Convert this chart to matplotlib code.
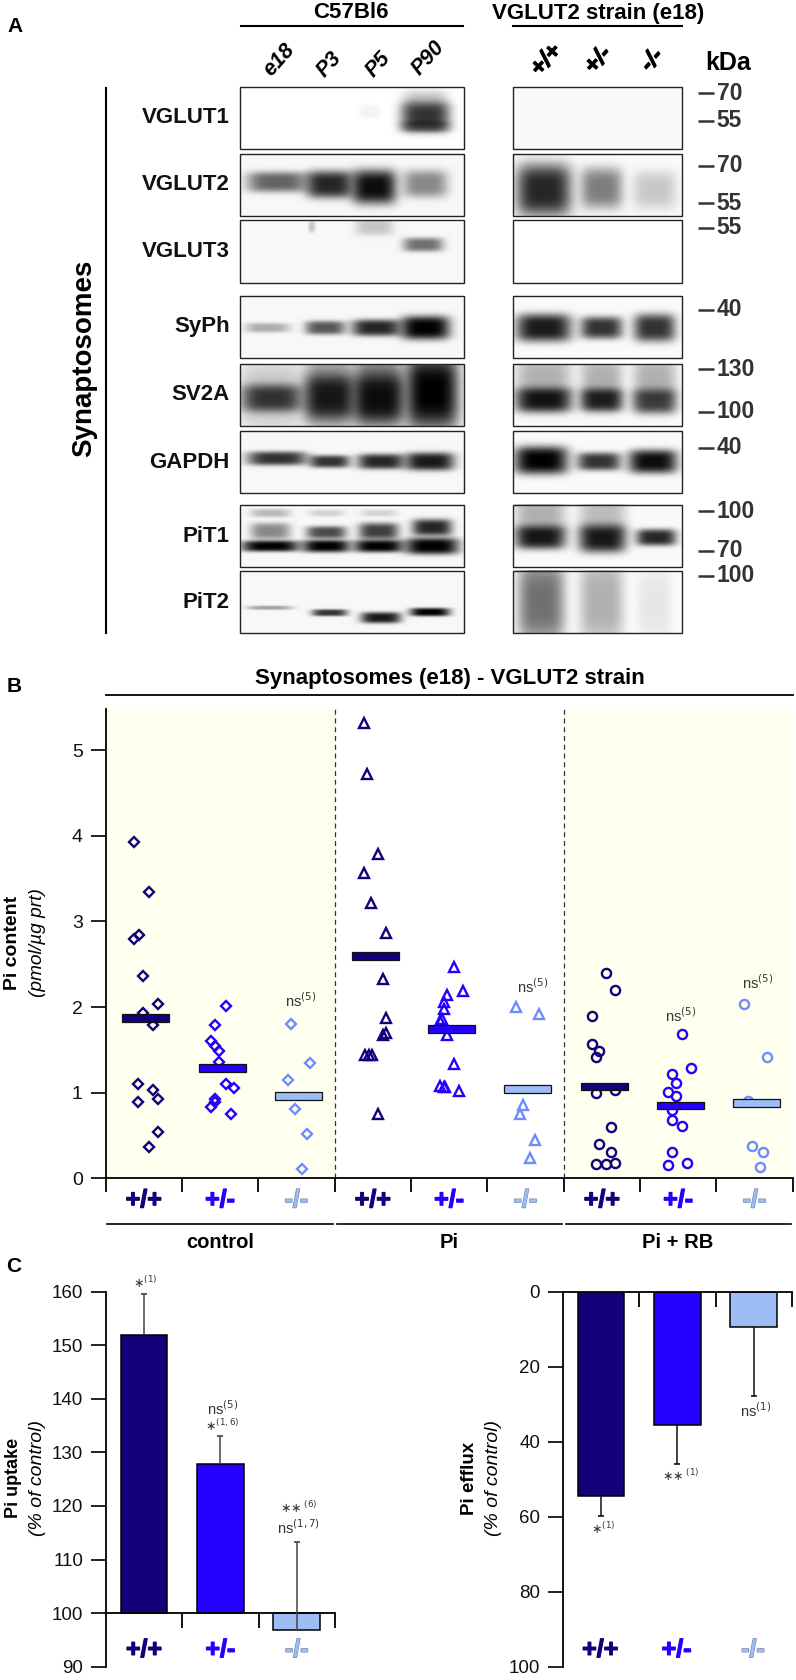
#imports
import numpy as np
import matplotlib
matplotlib.use("Agg")
import matplotlib.pyplot as plt
import matplotlib.patheffects as pe
from matplotlib.patches import Rectangle

plt.rcParams['font.family'] = ['Liberation Sans', 'DejaVu Sans']
plt.rcParams['mathtext.fontset'] = 'dejavusans'

W, H = 796, 1680
DARK, MID, LIGHT = '#15007A', '#2400FF', '#9DBDF5'
LIGHT_MARK = '#6F8CFF'
GENO = ['+/+', '+/-', '-/-']

#1. Blot data: each band is (x, y, half width, half height, darkness) as part of the box
vglut1_left = [(.83, .48, .11, .22, .8), (.83, .2, .1, .14, .2), (.83, .64, .105, .08, .4), (.58, .4, .05, .1, .05)]
vglut1_right = []
vglut2_left = [(.164, .45, .135, .15, .6), (.40, .49, .105, .2, .85), (.60, .53, .1, .25, .95), (.83, .48, .1, .2, .45)]
vglut2_right = [(.18, .58, .165, .38, .85), (.525, .55, .125, .3, .5), (.84, .58, .13, .28, .2)]
vglut3_left = [(.82, .39, .09, .1, .55), (.60, .1, .085, .13, .2), (.32, .1, .015, .08, .2)]
vglut3_right = []
syph_left = [(.12, .52, .1, .07, .3), (.38, .52, .09, .1, .65), (.61, .52, .11, .12, .85), (.83, .52, .11, .17, 1)]
syph_right = [(.18, .52, .165, .2, .9), (.525, .52, .125, .16, .8), (.84, .52, .125, .2, .8)]
sv2a_left = [(.14, .55, .135, .2, .75), (.14, .5, .15, .5, .2), (.40, .53, .11, .32, .85), (.40, .45, .11, .6, .4),
             (.62, .55, .11, .35, .9), (.62, .4, .11, .6, .5), (.86, .45, .12, .55, 1)]
sv2a_right = [(.18, .58, .165, .18, .9), (.18, .3, .165, .4, .3), (.525, .58, .125, .17, .85), (.525, .3, .125, .4, .3),
              (.84, .6, .13, .18, .7), (.84, .3, .13, .4, .3)]
gapdh_left = [(.164, .45, .135, .1, .8), (.40, .5, .09, .09, .8), (.63, .5, .105, .11, .85), (.85, .5, .11, .13, .9)]
gapdh_right = [(.165, .48, .16, .2, 1), (.51, .5, .13, .13, .8), (.83, .5, .145, .17, .95)]
pit1_left = [(.134, .67, .13, .08, 1), (.385, .67, .105, .09, 1), (.62, .67, .11, .09, 1), (.86, .67, .12, .12, 1),
             (.134, .43, .09, .12, .45), (.134, .14, .09, .06, .25), (.385, .45, .09, .09, .7), (.385, .14, .08, .05, .15),
             (.62, .43, .09, .12, .75), (.62, .14, .08, .05, .15), (.86, .37, .09, .12, .85)]
pit1_right = [(.16, .53, .15, .17, .9), (.16, .2, .15, .3, .3), (.53, .55, .14, .2, .9), (.53, .2, .14, .3, .25), (.85, .53, .12, .12, .85)]
pit2_left = [(.13, .6, .1, .03, .35), (.4, .68, .08, .05, .8), (.63, .76, .09, .08, .9), (.85, .67, .09, .06, 1)]
pit2_right = [(.165, .5, .14, .6, .55), (.525, .5, .13, .6, .3), (.84, .55, .1, .5, .08)]

blot_names = ['VGLUT1', 'VGLUT2', 'VGLUT3', 'SyPh', 'SV2A', 'GAPDH', 'PiT1', 'PiT2']
blots_left = [vglut1_left, vglut2_left, vglut3_left, syph_left, sv2a_left, gapdh_left, pit1_left, pit2_left]
blots_right = [vglut1_right, vglut2_right, vglut3_right, syph_right, sv2a_right, gapdh_right, pit1_right, pit2_right]
blot_tops = [86.7, 153.7, 220.3, 295.7, 364, 430.7, 505, 571]
blot_bottoms = [148.7, 215.7, 283, 358, 426, 493.3, 567.3, 633.3]
kda_values = ['70', '55', '70', '55', '55', '40', '130', '100', '40', '100', '70', '100']
kda_rows = [93, 120.7, 165.7, 203.3, 228, 310, 369, 411.7, 447.7, 511.3, 550.7, 576]
lanes_left = ['e18', 'P3', 'P5', 'P90']
lanes_right = ['+/+', '+/-', '-/-']

#2. Panel B data
control_wt_x = [.376, .576, .371, .441, .485, .686, .485, .624, .432, .624, .686, .432, .686, .576]
control_wt_y = [3.93, 3.35, 2.79, 2.84, 2.36, 2.03, 1.93, 1.79, 1.10, 1.03, .93, .89, .54, .36]
control_het_x = [1.576, 1.432, 1.380, 1.437, 1.489, 1.480, 1.576, 1.686, 1.437, 1.437, 1.384, 1.638]
control_het_y = [2.01, 1.79, 1.60, 1.54, 1.49, 1.36, 1.10, 1.05, .92, .89, .83, .75]
control_ko_x = [2.432, 2.681, 2.384, 2.476, 2.633, 2.572]
control_ko_y = [1.80, 1.34, 1.15, .81, .51, .11]
pi_wt_x = [3.380, 3.428, 3.568, 3.380, 3.476, 3.677, 3.633, 3.677, 3.677, 3.633, 3.402, 3.445, 3.489, 3.568]
pi_wt_y = [5.32, 4.72, 3.79, 3.57, 3.22, 2.87, 2.33, 1.87, 1.70, 1.67, 1.44, 1.44, 1.44, .75]
pi_het_x = [4.568, 4.677, 4.476, 4.428, 4.428, 4.410, 4.376, 4.476, 4.568, 4.376, 4.428, 4.450, 4.629]
pi_het_y = [2.47, 2.19, 2.14, 2.06, 1.98, 1.86, 1.84, 1.67, 1.33, 1.08, 1.07, 1.06, 1.02]
pi_ko_x = [5.376, 5.672, 5.472, 5.424, 5.624, 5.563]
pi_ko_y = [2.0, 1.92, .85, .75, .44, .23]
rb_wt_x = [6.559, 6.668, 6.371, 6.371, 6.467, 6.419, 6.419, 6.668, 6.624, 6.467, 6.624, 6.419, 6.559, 6.668]
rb_wt_y = [2.40, 2.20, 1.90, 1.57, 1.49, 1.41, .99, 1.03, .60, .40, .30, .17, .17, .18]
rb_het_x = [7.555, 7.664, 7.415, 7.467, 7.367, 7.467, 7.415, 7.415, 7.555, 7.415, 7.620, 7.367]
rb_het_y = [1.68, 1.29, 1.22, 1.11, 1.01, .96, .80, .68, .61, .30, .18, .15]
rb_ko_x = [8.367, 8.664, 8.415, 8.463, 8.616, 8.568]
rb_ko_y = [2.04, 1.41, .90, .37, .30, .13]
group_means = [1.87, 1.29, .96, 2.60, 1.74, 1.04, 1.07, .85, .88]
group_names = ['control', 'Pi', 'Pi + RB']
b_notes_x = [2.56, 5.6, 7.53, 8.54]
b_notes_y = [2.08, 2.24, 1.90, 2.28]

#3. Panel C data
uptake_means = [151.9, 127.8, 96.8]
uptake_tops = [159.5, 133, 113.3]
efflux_means = [54.5, 35.6, 9.5]
efflux_tops = [59.8, 46, 27.7]

fig = plt.figure(figsize=(W / 100, H / 100), dpi=100)


def px_axes(left, top, right, bottom):
    return fig.add_axes([left / W, 1 - bottom / H, (right - left) / W, (bottom - top) / H])


#4. Page axes in pixels, for panel A and the loose labels
page = fig.add_axes([0, 0, 1, 1])
page.axis('off')


def draw_blot(bands, x0, x1, y0, y1, paper=.97):
    yy, xx = np.mgrid[0:1:90j, 0:1:160j]
    light = np.ones_like(xx)
    for x, y, w, h, d in bands:
        light *= 1 - d * np.exp(-(np.abs((xx - x) / w) ** 4 + np.abs((yy - y) / (1.12 * h)) ** 3.5))
    page.imshow(paper * light, cmap='gray', vmin=0, vmax=1, extent=(x0, x1, y1, y0),
                aspect='auto', interpolation='bilinear', zorder=1)
    page.add_patch(Rectangle((x0, y0), x1 - x0, y1 - y0, fill=False, ec='#222222', lw=1, zorder=2))


for i, name in enumerate(blot_names):
    t, b = blot_tops[i], blot_bottoms[i]
    draw_blot(blots_left[i], 240.1, 463.5, t, b, paper=1 if i == 0 else .97)
    draw_blot(blots_right[i], 512.7, 681.7, t, b, paper=.98 if i != 2 else 1)
    page.text(229.5, (t + b) / 2, name, ha='right', va='center', fontsize=16, fontweight='bold', color='#111111')
page.set_xlim(0, W)
page.set_ylim(H, 0)

page.text(351, 13, 'C57Bl6', ha='center', va='center', fontsize=16, fontweight='bold')
page.text(598, 13, 'VGLUT2 strain (e18)', ha='center', va='center', fontsize=16, fontweight='bold')
page.plot([240.6, 463], [26, 26], color='k', lw=1.5)
page.plot([513, 682], [26, 26], color='k', lw=1.5)
for label, x, y in zip(lanes_left, [279, 329, 378, 428], [60, 65, 65, 58]):
    page.text(x, y, label, rotation=48, ha='center', va='center', fontsize=15.5, fontweight='bold', style='italic')
for label, x in zip(lanes_right, [546, 598, 652]):
    page.text(x, 60, label, rotation=48, ha='center', va='center', fontsize=17, fontweight='bold', style='italic',
              path_effects=[pe.withStroke(linewidth=.8, foreground='k')])
page.text(728, 63, 'kDa', ha='center', va='center', fontsize=18, fontweight='bold')
for label, y in zip(kda_values, kda_rows):
    page.plot([698, 714], [y, y], color='#333333', lw=1.8, solid_capstyle='butt')
    page.text(716.5, y, label, ha='left', va='center', fontsize=16.5, fontweight='bold', color='#333333')
page.plot([105.6, 105.6], [88, 632.7], color='k', lw=1.5)
page.text(84, 358, 'Synaptosomes', rotation=90, ha='center', va='center', fontsize=20, fontweight='bold')

# panel letters and the loose titles
page.text(15, 27, 'A', ha='center', va='center', fontsize=15, fontweight='bold')
page.text(14, 687, 'B', ha='center', va='center', fontsize=15, fontweight='bold')
page.text(14, 1267, 'C', ha='center', va='center', fontsize=15, fontweight='bold')
page.text(450, 678.7, 'Synaptosomes (e18) - VGLUT2 strain', ha='center', va='center', fontsize=16, fontweight='bold')
page.plot([106, 793], [695.2, 695.2], color='k', lw=1.3)
for x0, x1 in [(107, 333), (337, 561.7), (566, 791)]:
    page.plot([x0, x1], [1224, 1224], color='k', lw=1.2)
for label, x in zip(group_names, [220, 449, 678]):
    page.text(x, 1243, label, ha='center', va='center', fontsize=14.5, fontweight='bold')
page.text(13, 942.8, 'Pi content', rotation=90, ha='center', va='center', fontsize=14, fontweight='bold')
page.text(37, 942.8, '(pmol/µg prt)', rotation=90, ha='center', va='center', fontsize=13.8, style='italic')
page.text(13, 1478, 'Pi uptake', rotation=90, ha='center', va='center', fontsize=13, fontweight='bold')
page.text(37, 1478, '(% of control)', rotation=90, ha='center', va='center', fontsize=14, style='italic')
page.text(470, 1478, 'Pi efflux', rotation=90, ha='center', va='center', fontsize=13.5, fontweight='bold')
page.text(494, 1478, '(% of control)', rotation=90, ha='center', va='center', fontsize=14, style='italic')


def geno_label(ax, x, y, i):
    # genotype tags under the axis, y is in axes fraction
    colors = [DARK, MID, LIGHT]
    strokes = [DARK, MID, '#7080A8']
    ax.text(x, y, GENO[i], transform=ax.get_xaxis_transform(), ha='center', va='center', clip_on=False,
            fontsize=18, fontweight='bold', color=colors[i],
            path_effects=[pe.withStroke(linewidth=.9, foreground=strokes[i])])


def style_axes(ax):
    ax.patch.set_alpha(0)
    for side in ['top', 'right', 'bottom', 'left']:
        ax.spines[side].set_visible(False)
        ax.spines[side].set_linewidth(1.3)
    ax.tick_params(axis='y', length=10.8, width=1.3, pad=5.5, labelsize=13.5, colors='#111111')
    ax.tick_params(axis='x', length=10.4, width=1.3, labelbottom=False, labeltop=False)


#5. Panel B: scatter with mean bars
ax = px_axes(105.5, 709.3, 792.7, 1178.1)
style_axes(ax)
ax.set_xlim(0, 9)
ax.set_ylim(0, 5.48)
ax.spines['left'].set_visible(True)
ax.spines['bottom'].set_visible(True)
ax.set_xticks(range(10))
ax.set_yticks(range(6))
ax.tick_params(axis='y', labelsize=14)
ax.axvspan(0, 3, color='#FFFFF0', lw=0, zorder=0)
ax.axvspan(6, 9, color='#FFFFF0', lw=0, zorder=0)
for x in [3, 6]:
    ax.plot([x, x], [0, 5.5], color='#333333', lw=.9, ls=(0, (4, 3)), clip_on=False)

scatter_sets = [(control_wt_x, control_wt_y, 'D', DARK), (control_het_x, control_het_y, 'D', MID), (control_ko_x, control_ko_y, 'D', LIGHT_MARK),
                (pi_wt_x, pi_wt_y, '^', DARK), (pi_het_x, pi_het_y, '^', MID), (pi_ko_x, pi_ko_y, '^', LIGHT_MARK),
                (rb_wt_x, rb_wt_y, 'o', DARK), (rb_het_x, rb_het_y, 'o', MID), (rb_ko_x, rb_ko_y, 'o', LIGHT_MARK)]
for xs, ys, marker, color in scatter_sets:
    ax.plot(xs, ys, ls='none', marker=marker, mfc='none', mec=color, mew=1.7,
            ms=4.8 if marker == 'D' else 6.6, clip_on=False, zorder=3)
bar_colors = [DARK, MID, LIGHT] * 3
for i, m in enumerate(group_means):
    ax.bar(i + .53, .09, bottom=m - .045, width=.616, color=bar_colors[i], edgecolor='#111111', linewidth=.9, zorder=4)
    geno_label(ax, i + .5, -.047, i % 3)
for x, y in zip(b_notes_x, b_notes_y):
    ax.text(x, y, r'ns$^{(5)}$', ha='center', va='center', fontsize=10.5, color='#333333')


def bar_panel(ax, means, tops, base, err_color):
    colors = [DARK, MID, LIGHT]
    x = [.5, 1.5, 2.5]
    ax.bar(x, np.array(means) - base, bottom=base, width=.61, color=colors, edgecolor='k', linewidth=1.1, zorder=2)
    ax.vlines(x, means, tops, color=err_color, lw=1.1, zorder=3)
    ax.plot(x, tops, ls='none', marker='_', ms=4, mew=1.2, color=err_color, zorder=3)


#6. Panel C, uptake
ax = px_axes(105.7, 1291.7, 335, 1666.7)
style_axes(ax)
ax.set_xlim(0, 3)
ax.set_ylim(90, 160)
ax.spines['left'].set_visible(True)
ax.spines['bottom'].set_visible(True)
ax.spines['bottom'].set_position(('data', 100))
ax.set_xticks([1, 2, 3])
ax.set_yticks(range(90, 161, 10))
ax.tick_params(axis='x', length=10.5)
bar_panel(ax, uptake_means, uptake_tops, 100, '#444444')
for i in range(3):
    geno_label(ax, i + .5, .045, i)
for x, y, s, size in [(.51, 161.6, r'$\ast^{(1)}$', 9), (1.53, 138.2, r'ns$^{(5)}$', 10.5), (1.53, 135, r'$\ast^{(1,6)}$', 9),
                      (2.53, 119.7, r'$\ast\!\ast^{(6)}$', 9), (2.52, 116, r'ns$^{(1,7)}$', 10.5)]:
    ax.text(x, y, s, ha='center', va='center', fontsize=size, color='#333333')

#7. Panel C, efflux
ax = px_axes(562.7, 1291.7, 792, 1666.7)
style_axes(ax)
ax.set_xlim(0, 3)
ax.set_ylim(100, 0)
ax.spines['left'].set_visible(True)
ax.spines['top'].set_visible(True)
ax.set_xticks([1, 2, 3])
ax.set_yticks(range(0, 101, 20))
ax.tick_params(axis='x', bottom=False, top=True, direction='in', length=10.5)
bar_panel(ax, efflux_means, efflux_tops, 0, '#111111')
for i in range(3):
    geno_label(ax, i + .49, .045, i)
for x, y, s, size in [(.524, 63.3, r'$\ast^{(1)}$', 9), (1.546, 49.2, r'$\ast\!\ast^{(1)}$', 9), (2.52, 31.6, r'ns$^{(1)}$', 10.5)]:
    ax.text(x, y, s, ha='center', va='center', fontsize=size, color='#333333')

fig.savefig('out.png', dpi=100)
